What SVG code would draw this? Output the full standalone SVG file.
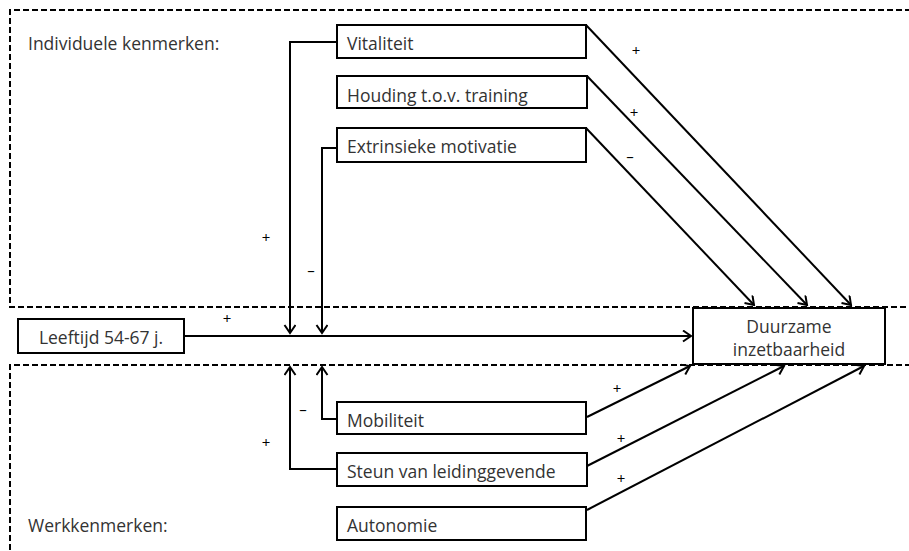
<svg xmlns="http://www.w3.org/2000/svg" width="909" height="551" viewBox="0 0 909 551">
<defs>
<style>
.box{fill:#fff;stroke:#000;stroke-width:2}
.dash{fill:none;stroke:#000;stroke-width:2;stroke-dasharray:6 3}
.c{fill:none;stroke:#000;stroke-width:2}
.t{font-family:"Open Sans","Liberation Sans",sans-serif;font-size:17.5px;fill:#333}
.s{font-family:"Open Sans","Liberation Sans",sans-serif;font-size:15px;fill:#000;text-anchor:middle}
</style>
<marker id="ah" markerUnits="userSpaceOnUse" markerWidth="12" markerHeight="14" refX="9" refY="6" orient="auto" viewBox="0 0 12 14">
<path d="M1,0.5 L9,6 L1,11.5" fill="none" stroke="#000" stroke-width="2"/>
</marker>
</defs>
<rect width="909" height="551" fill="#fff"/>
<g id="zone-individueel">
<path class="dash" d="M920,10 H10 V307 H920"/>
<text class="t" x="28" y="50">Individuele kenmerken:</text>
</g>
<g id="zone-werk">
<path class="dash" d="M920,365 H10 V560"/>
<text class="t" x="28" y="532">Werkkenmerken:</text>
</g>
<g id="connectors">
<path class="c" d="M337,42 H290 V333" marker-end="url(#ah)"/>
<path class="c" d="M337,148 H322 V333" marker-end="url(#ah)"/>
<path class="c" d="M337,419 H322 V367" marker-end="url(#ah)"/>
<path class="c" d="M337,469 H290 V367" marker-end="url(#ah)"/>
<path class="c" d="M184,336 H691" marker-end="url(#ah)"/>
<path class="c" d="M586,25 L851,305" marker-end="url(#ah)"/>
<path class="c" d="M587,76 L807,305" marker-end="url(#ah)"/>
<path class="c" d="M586,128 L754,305" marker-end="url(#ah)"/>
<path class="c" d="M587,417 L690,366" marker-end="url(#ah)"/>
<path class="c" d="M587,466 L784,366" marker-end="url(#ah)"/>
<path class="c" d="M587,510 L864,366" marker-end="url(#ah)"/>
<text class="s" x="636" y="56">+</text>
<text class="s" x="634" y="118">+</text>
<text class="s" x="630" y="162">–</text>
<text class="s" x="266" y="243">+</text>
<text class="s" x="311" y="276">–</text>
<text class="s" x="227" y="324">+</text>
<text class="s" x="303" y="415">–</text>
<text class="s" x="266" y="448">+</text>
<text class="s" x="617" y="394">+</text>
<text class="s" x="621" y="444">+</text>
<text class="s" x="621" y="484">+</text>
</g>
<g id="vitaliteit"><rect class="box" x="337" y="25" width="249" height="33"/><text class="t" x="347" y="50">Vitaliteit</text></g>
<g id="houding"><rect class="box" x="337" y="76" width="250" height="32"/><text class="t" x="347" y="102">Houding t.o.v. training</text></g>
<g id="extrinsieke"><rect class="box" x="337" y="128" width="249" height="34"/><text class="t" x="347" y="153">Extrinsieke motivatie</text></g>
<g id="leeftijd"><rect class="box" x="18" y="319" width="166" height="34"/><text class="t" x="101" y="344" text-anchor="middle">Leeftijd 54-67 j.</text></g>
<g id="duurzame"><rect class="box" x="693" y="308" width="192" height="56"/><text class="t" x="789" y="333" text-anchor="middle">Duurzame</text><text class="t" x="789" y="356" text-anchor="middle">inzetbaarheid</text></g>
<g id="mobiliteit"><rect class="box" x="337" y="402" width="249" height="32"/><text class="t" x="347" y="427">Mobiliteit</text></g>
<g id="steun"><rect class="box" x="337" y="453" width="250" height="33"/><text class="t" x="347" y="478">Steun van leidinggevende</text></g>
<g id="autonomie"><rect class="box" x="337" y="507" width="249" height="33"/><text class="t" x="347" y="532">Autonomie</text></g>
</svg>
